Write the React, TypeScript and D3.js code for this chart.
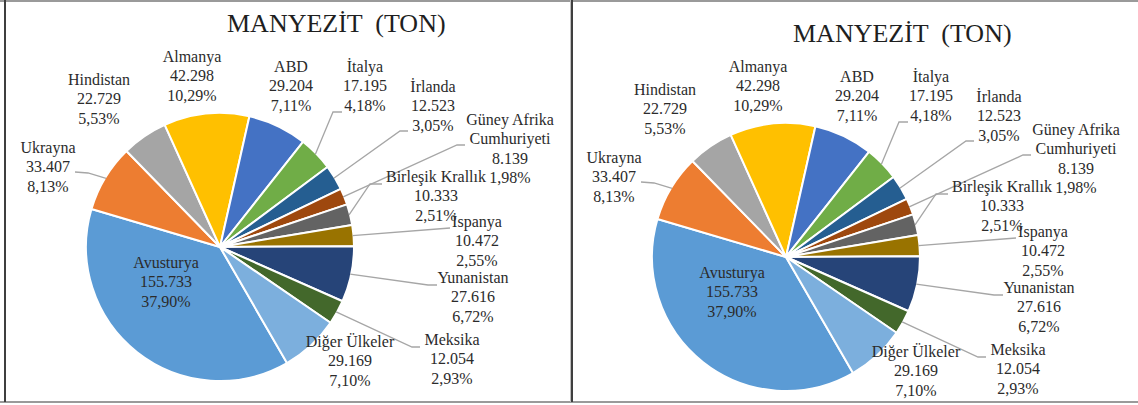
import React from 'react';
import * as d3 from 'd3';

// ---- data ----
const countries = [
  'Avusturya', 'Ukrayna', 'Hindistan', 'Almanya', 'ABD', 'İtalya', 'İrlanda',
  'Güney Afrika\nCumhuriyeti', 'Birleşik Krallık', 'İspanya', 'Yunanistan', 'Meksika', 'Diğer Ülkeler',
];
const values = [155733, 33407, 22729, 42298, 29204, 17195, 12523, 8139, 10333, 10472, 27616, 12054, 29169];
const pctLabels = ['37,90%', '8,13%', '5,53%', '10,29%', '7,11%', '4,18%', '3,05%', '1,98%', '2,51%', '2,55%', '6,72%', '2,93%', '7,10%'];
const colors = ['#5B9BD5', '#ED7D31', '#A5A5A5', '#FFC000', '#4472C4', '#70AD47', '#255E91', '#9E480E', '#636363', '#997300', '#264478', '#43682B', '#7CAFDD'];
const title = 'MANYEZİT (TON)';

// ---- layout (panel coordinates) ----
const CX = 220, CY = 247, R = 134;
const START_DEG = 150;
const labelX = [166, 48, 99, 192, 291, 365, 433, 510, 436, 477, 473, 452, 350];
const labelY = [268, 153, 85, 62, 72, 72, 92, 125, 182, 227, 283, 345, 347];
const leaders: (number[][] | null)[] = [
  null,
  [[88, 173], [75, 172]],
  null,
  null,
  null,
  [[333, 112], [342, 112]],
  [[400, 131], [408, 131]],
  [[457, 145], [465, 145]],
  [[370, 184], [382, 184]],
  [[450, 228]],
  [[428, 285], [437, 285]],
  [[412, 347], [420, 347]],
  null,
];
const panels = [{ dx: 0, dy: 0 }, { dx: 566, dy: 10 }];

const W = 1138, H = 405;
const FONT = "'Liberation Serif', 'Times New Roman', serif";
const LINE_H = 19.3;

const trLocale = d3.formatLocale({ decimal: ',', thousands: '.', grouping: [3], currency: ['', ''] });
const fmt = trLocale.format(',d');

function Panel({ dx, dy }: { dx: number; dy: number }) {
  const pie = d3.pie<number>().sort(null).value(d => d)
    .startAngle((START_DEG * Math.PI) / 180)
    .endAngle((START_DEG * Math.PI) / 180 + 2 * Math.PI);
  const arcs = pie(values);
  const arc = d3.arc<d3.PieArcDatum<number>>().innerRadius(0).outerRadius(R);
  const edge = d3.arc<d3.PieArcDatum<number>>().innerRadius(R - 1).outerRadius(R - 1);
  const line = d3.line();

  return (
    <g transform={`translate(${dx},${dy})`}>
      <text x={227} y={32} fontFamily={FONT} fontSize={26} fill="#1f1f1f" style={{ whiteSpace: 'pre' }}>
        {'MANYEZİT  (TON)'}
      </text>
      <g transform={`translate(${CX},${CY})`}>
        {arcs.map((a, i) => (
          <path key={i} d={arc(a) || ''} fill={colors[i]} stroke="#fff" strokeWidth={2} strokeLinejoin="round" />
        ))}
      </g>
      {arcs.map((a, i) => {
        const pts = leaders[i];
        if (!pts) return null;
        const mid = (a.startAngle + a.endAngle) / 2;
        const s: [number, number] = [CX + (R - 1) * Math.sin(mid), CY - (R - 1) * Math.cos(mid)];
        const all = [s, ...pts.map(p => [p[0], p[1]] as [number, number])];
        return <path key={'l' + i} d={line(all) || ''} fill="none" stroke="#A6A6A6" strokeWidth={1.3} />;
      })}
      {countries.map((c, i) => {
        const lines = [...c.split('\n'), fmt(values[i]), pctLabels[i]];
        return (
          <text key={'t' + i} x={labelX[i]} y={labelY[i]} textAnchor="middle" fontFamily={FONT} fontSize={16} fill="#2b2b2b">
            {lines.map((t, j) => (
              <tspan key={j} x={labelX[i]} dy={j === 0 ? 0 : LINE_H}>{t}</tspan>
            ))}
          </text>
        );
      })}
    </g>
  );
}

export default function App() {
  void title;
  return (
    <svg width={W} height={H} style={{ position: 'absolute', left: 0, top: 0, background: '#fff' }}>
      <rect x={0} y={0} width={W} height={H} fill="#fff" />
      {panels.map((p, i) => <Panel key={i} dx={p.dx} dy={p.dy} />)}
      {/* frame lines */}
      <line x1={0} y1={1} x2={W} y2={1} stroke="#9a9a9a" strokeWidth={2} />
      <line x1={0} y1={402} x2={W} y2={402} stroke="#9a9a9a" strokeWidth={2} />
      <line x1={5} y1={0} x2={5} y2={402} stroke="#3f3f3f" strokeWidth={2} />
      <line x1={572} y1={0} x2={572} y2={402} stroke="#3f3f3f" strokeWidth={2} />
      <line x1={570.5} y1={0} x2={570.5} y2={402} stroke="#bdbdbd" strokeWidth={1} />
    </svg>
  );
}
